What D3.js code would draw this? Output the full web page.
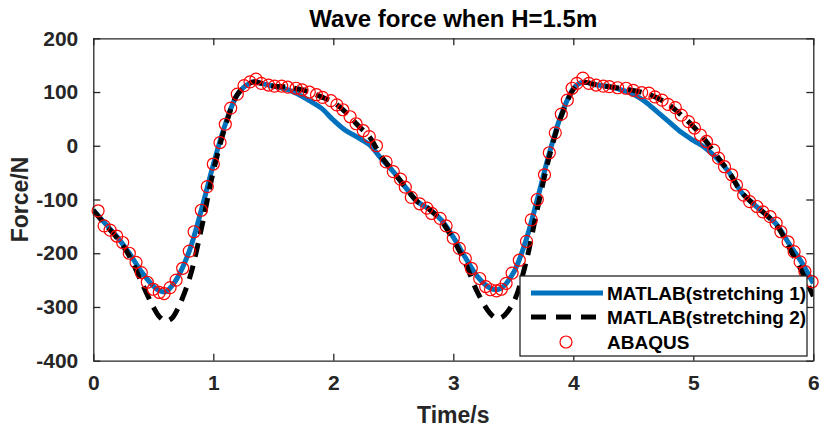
<!DOCTYPE html>
<html>
<head>
<meta charset="utf-8">
<title>Wave force</title>
<script src="https://cdn.jsdelivr.net/npm/d3@7"></script>
<style>
  body { margin: 0; background: #fff; }
  svg { font-family: "Liberation Sans", Arial, sans-serif; font-weight: bold; }
</style>
</head>
<body>
<div id="chart"></div>
<script>
// time axis shared by both MATLAB curves
const time = [0,0.1,0.2,0.3,0.4,0.5,0.55,0.6,0.65,0.7,0.8,0.9,1.0,1.1,1.2,1.3,1.35,1.4,1.5,1.6,1.7,1.8,1.9,2.0,2.1,2.2,2.3,2.4,2.5,2.6,2.7,2.8,2.9,3.0,3.1,3.2,3.3,3.35,3.4,3.5,3.6,3.7,3.8,3.9,4.0,4.05,4.1,4.2,4.3,4.4,4.5,4.6,4.7,4.8,4.9,5.0,5.1,5.2,5.3,5.4,5.5,5.6,5.7,5.8,5.9,6.0];

const stretching1 = [-120,-145,-170,-200,-234,-261,-270,-272,-262,-246,-196,-120,-35,40,95,116,119,116,111,106,97,84,70,48,29,16,2,-24,-48,-77,-104,-118,-138,-170,-208,-243,-264,-268,-265,-237,-180,-100,-14,58,106,116,118,113,110,104,96,82,63,44,25,10,-4,-24,-50,-86,-108,-127,-148,-183,-216,-256];

const stretching2 = [-120,-147,-172,-205,-253,-300,-318,-326,-322,-305,-248,-155,-48,36,95,116,119,116,111,110,106,100,91,81,63,39,17,-20,-48,-77,-104,-118,-140,-175,-218,-272,-310,-320,-320,-292,-222,-118,-20,55,105,116,118,113,110,107,103,98,89,76,57,36,10,-20,-50,-86,-108,-127,-150,-190,-232,-280];

// ABAQUS markers
const abaqusT = [0.04,0.09,0.14,0.195,0.245,0.30,0.356,0.40,0.45,0.50,0.55,0.59,0.64,0.69,0.745,0.80,0.84,0.90,0.95,1.00,1.056,1.10,1.145,1.20,1.256,1.306,1.356,1.40,1.46,1.51,1.57,1.62,1.69,1.74,1.80,1.86,1.91,1.98,2.03,2.08,2.14,2.19,2.25,2.30,2.36,2.44,2.50,2.56,2.60,2.65,2.72,2.78,2.82,2.89,2.94,3.0,3.05,3.10,3.15,3.22,3.27,3.31,3.36,3.40,3.44,3.49,3.55,3.61,3.65,3.70,3.76,3.80,3.85,3.90,3.95,3.99,4.03,4.08,4.13,4.19,4.25,4.30,4.37,4.44,4.50,4.57,4.63,4.68,4.74,4.79,4.85,4.90,4.96,5.01,5.06,5.11,5.17,5.21,5.26,5.32,5.36,5.42,5.47,5.53,5.58,5.64,5.69,5.73,5.79,5.84,5.89,5.93,5.99];
const abaqusF = [-121,-149,-157,-168,-180,-200,-217,-236,-254,-267,-273,-275,-264,-250,-228,-196,-160,-120,-76,-34,6,40,70,96,112,119,124,116,113,111,111,109,107,104,100,95,90,84,76,67,54,41,28,17,0,-30,-48,-62,-77,-96,-108,-116,-126,-135,-149,-172,-191,-210,-228,-247,-262,-268,-270,-267,-256,-237,-213,-178,-138,-100,-54,-13,24,59,85,107,116,126,116,113,111,110,108,107,103,99,98,91,85,77,71,57,45,33,20,8,-8,-23,-39,-54,-73,-92,-104,-113,-123,-132,-144,-160,-179,-197,-216,-234,-253];

const xTicks = [0,1,2,3,4,5,6];
const yTicks = [-400,-300,-200,-100,0,100,200];
const seriesNames = ["MATLAB(stretching 1)", "MATLAB(stretching 2)", "ABAQUS"];

const W = 819, H = 430;
const m = {left: 93.3, top: 38.3, right: 5.7, bottom: 69.3};
const iw = W - m.left - m.right, ih = H - m.top - m.bottom;
const axisColor = "#262626";

const svg = d3.select("#chart").append("svg")
    .attr("width", W)
    .attr("height", H);

const x = d3.scaleLinear().domain([0, 6]).range([0, iw]);
const y = d3.scaleLinear().domain([-400, 200]).range([ih, 0]);

const g = svg.append("g").attr("transform", "translate(" + m.left + "," + m.top + ")");

g.append("clipPath").attr("id", "clip")
    .append("rect").attr("width", iw).attr("height", ih);

const plot = g.append("g").attr("clip-path", "url(#clip)");

const line = (vals) => d3.line()
    .x((d, i) => x(time[i]))
    .y(d => y(d))
    .curve(d3.curveCatmullRom.alpha(0.5))(vals);

plot.append("path")
    .attr("d", line(stretching1))
    .attr("fill", "none")
    .attr("stroke", "#0072BD")
    .attr("stroke-width", 5);

plot.append("path")
    .attr("d", line(stretching2))
    .attr("fill", "none")
    .attr("stroke", "#000")
    .attr("stroke-width", 5)
    .attr("stroke-dasharray", "14,9");

g.append("g").selectAll("circle")
    .data(abaqusT)
    .enter()
    .append("circle")
    .attr("cx", d => x(d))
    .attr("cy", (d, i) => y(abaqusF[i]))
    .attr("r", 6)
    .attr("fill", "none")
    .attr("stroke", "#ff0000")
    .attr("stroke-width", 1.2);

// axes, MATLAB style box with inward ticks (plain hyphen for negatives)
const fmt = d => String(d);
const xAxis = g.append("g")
    .attr("transform", "translate(0," + ih + ")")
    .call(d3.axisBottom(x).tickValues(xTicks).tickFormat(fmt).tickSizeInner(-7).tickSizeOuter(0).tickPadding(14));
const xTop = g.append("g")
    .call(d3.axisTop(x).tickValues(xTicks).tickSizeInner(-7).tickSizeOuter(0).tickFormat(""));
const yAxis = g.append("g")
    .call(d3.axisLeft(y).tickValues(yTicks).tickFormat(fmt).tickSizeInner(-7).tickSizeOuter(0).tickPadding(15));
const yRight = g.append("g")
    .attr("transform", "translate(" + iw + ",0)")
    .call(d3.axisRight(y).tickValues(yTicks).tickSizeInner(-7).tickSizeOuter(0).tickFormat(""));

[xAxis, xTop, yAxis, yRight].forEach(a => {
    a.selectAll("path").attr("stroke", axisColor).attr("stroke-width", 1.3);
    a.selectAll("line").attr("stroke", axisColor).attr("stroke-width", 1.3);
    a.selectAll("text")
        .attr("fill", axisColor)
        .style("font-size", "21px")
        .style("font-weight", "bold")
        .style("font-family", "'Liberation Sans', Arial, sans-serif");
});

// titles
svg.append("text")
    .attr("x", m.left + iw / 2)
    .attr("y", 27)
    .attr("text-anchor", "middle")
    .attr("fill", "#000")
    .style("font-size", "24px")
    .text("Wave force when H=1.5m");

svg.append("text")
    .attr("x", m.left + iw / 2)
    .attr("y", 423)
    .attr("text-anchor", "middle")
    .attr("fill", axisColor)
    .style("font-size", "23px")
    .text("Time/s");

svg.append("text")
    .attr("transform", "translate(28," + (m.top + ih / 2) + ") rotate(-90)")
    .attr("text-anchor", "middle")
    .attr("fill", axisColor)
    .style("font-size", "23px")
    .text("Force/N");

// legend
const lg = svg.append("g").attr("transform", "translate(520,276)");
lg.append("rect")
    .attr("width", 287).attr("height", 80)
    .attr("fill", "#fff").attr("stroke", axisColor).attr("stroke-width", 1.3);

const rows = [17, 41, 66];
lg.append("line").attr("x1", 11).attr("x2", 83).attr("y1", rows[0]).attr("y2", rows[0])
    .attr("stroke", "#0072BD").attr("stroke-width", 5);
lg.append("line").attr("x1", 11).attr("x2", 83).attr("y1", rows[1]).attr("y2", rows[1])
    .attr("stroke", "#000").attr("stroke-width", 5).attr("stroke-dasharray", "15,10");
lg.append("circle").attr("cx", 46).attr("cy", rows[2]).attr("r", 6)
    .attr("fill", "none").attr("stroke", "#ff0000").attr("stroke-width", 1.2);

lg.selectAll("text.lab")
    .data(seriesNames)
    .enter()
    .append("text")
    .attr("class", "lab")
    .attr("x", 87)
    .attr("y", (d, i) => rows[i] + 7)
    .attr("fill", "#000")
    .style("font-size", "19px")
    .text(d => d);
</script>
</body>
</html>
